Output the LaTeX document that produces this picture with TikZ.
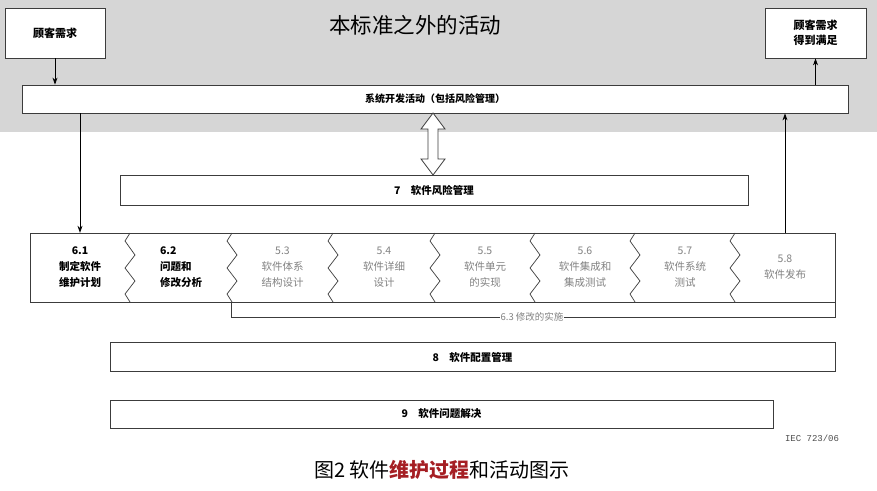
\documentclass[tikz,border=0pt]{standalone}
\usepackage{fontspec}
\setmainfont{Noto Sans CJK SC}
\newfontfamily\monof{Liberation Mono}
\usetikzlibrary{arrows.meta,calc}
\definecolor{bggray}{RGB}{214,214,214}
\definecolor{capred}{RGB}{165,30,35}
\definecolor{linec}{RGB}{60,60,60}
\definecolor{celltext}{RGB}{130,130,130}
\begin{document}
\begin{tikzpicture}[x=1pt,y=-1pt,
  box/.style={draw=linec, line width=0.8pt, fill=white, inner sep=0pt, font=\fontsize{10.5}{14}\selectfont\bfseries, align=center},
  cell/.style={inner sep=0pt, minimum height=69pt, align=center, font=\fontsize{10.5}{16}\selectfont},
  graycell/.style={cell, text=celltext},
  boldcell/.style={cell, font=\fontsize{10.5}{16}\selectfont\bfseries},
  arr/.style={draw=black, line width=0.8pt, -{Stealth[length=7pt,width=5pt]}},
]
\useasboundingbox (0,0) rectangle (877,490);
\fill[bggray] (0,0) rectangle (877,132);

\node[box, minimum width=100pt, minimum height=50pt, font=\fontsize{11}{14}\selectfont\bfseries] (cust) at (55,33) {顾客需求};
\node[box, minimum width=101pt, minimum height=50pt, font=\fontsize{11}{15}\selectfont\bfseries] (sat) at (815.5,33) {顾客需求\\得到满足};
\node[font=\fontsize{21.5}{24}\selectfont] (title) at (415,25) {本标准之外的活动};
\node[box, minimum width=826pt, minimum height=28pt, font=\fontsize{10}{14}\selectfont\bfseries] (sys) at (435,99) {系统开发活动（包括风险管理）};
\node[box, minimum width=628pt, minimum height=30pt] (rm) at (434,190) {7\quad 软件风险管理};

% process row
\node[draw=linec, line width=0.8pt, fill=white, minimum width=805pt, minimum height=69pt, inner sep=0pt] (row) at (432.5,267.5) {};
\node[boldcell, minimum width=100pt] (c61) at (80,267.5) {6.1\\制定软件\\维护计划};
\node[boldcell, minimum width=102pt] (c62) at (181,267.5) {\begin{tabular}{@{}l@{}}6.2\\问题和\\修改分析\end{tabular}};
\node[graycell, minimum width=101pt] (c53) at (282.5,267.5) {5.3\\软件体系\\结构设计};
\node[graycell, minimum width=102pt] (c54) at (384,267.5) {5.4\\软件详细\\设计};
\node[graycell, minimum width=100pt] (c55) at (485,267.5) {5.5\\软件单元\\的实现};
\node[graycell, minimum width=100pt] (c56) at (585,267.5) {5.6\\软件集成和\\集成测试};
\node[graycell, minimum width=100pt] (c57) at (685,267.5) {5.7\\软件系统\\测试};
\node[graycell, minimum width=100pt] (c58) at (785,267.5) {5.8\\软件发布};
\foreach \x in {130,232,333,435,535,635,735}
  \draw[linec, line width=0.7pt] (\x,233) -- (\x-5,241) -- (\x+5,255) -- (\x-5,268) -- (\x+5,281) -- (\x-5,294) -- (\x,302);

% connectors
\draw[arr] (cust.south) -- (cust.south |- sys.north);
\draw[arr] (sat.south |- sys.north) -- (sat.south);
\draw[arr] (c61.north |- sys.south) -- (c61.north);
\draw[arr] (c58.north) -- (c58.north |- sys.south);

% double arrow between sys and rm
\draw[linec, line width=0.8pt, fill=white, line join=miter]
  (433,113) -- (421,129) -- (428,129) -- (428,159) -- (421,159) -- (433,175)
  -- (445,159) -- (438,159) -- (438,129) -- (445,129) -- cycle;

% 6.3 bracket
\draw[linec, line width=0.7pt] (c53.south west) -- ++(0,15) -| (row.south east);
\node[fill=white, text=celltext, inner sep=1pt, font=\fontsize{9.5}{11}\selectfont] (lab63) at (532,317) {6.3 修改的实施};

\node[box, minimum width=725pt, minimum height=29pt] (cm) at (472.5,357) {8\quad 软件配置管理};
\node[box, minimum width=663pt, minimum height=28pt] (pr) at (441.5,414) {9\quad 软件问题解决};

\node[font=\monof\fontsize{9}{10}\selectfont, text=black!70] (iec) at (812,438) {IEC 723/06};
\node[font=\fontsize{20}{22}\selectfont] (cap) at (442,470) {图2 软件\textcolor{capred}{\bfseries 维护过程}和活动图示};
\end{tikzpicture}
\end{document}
